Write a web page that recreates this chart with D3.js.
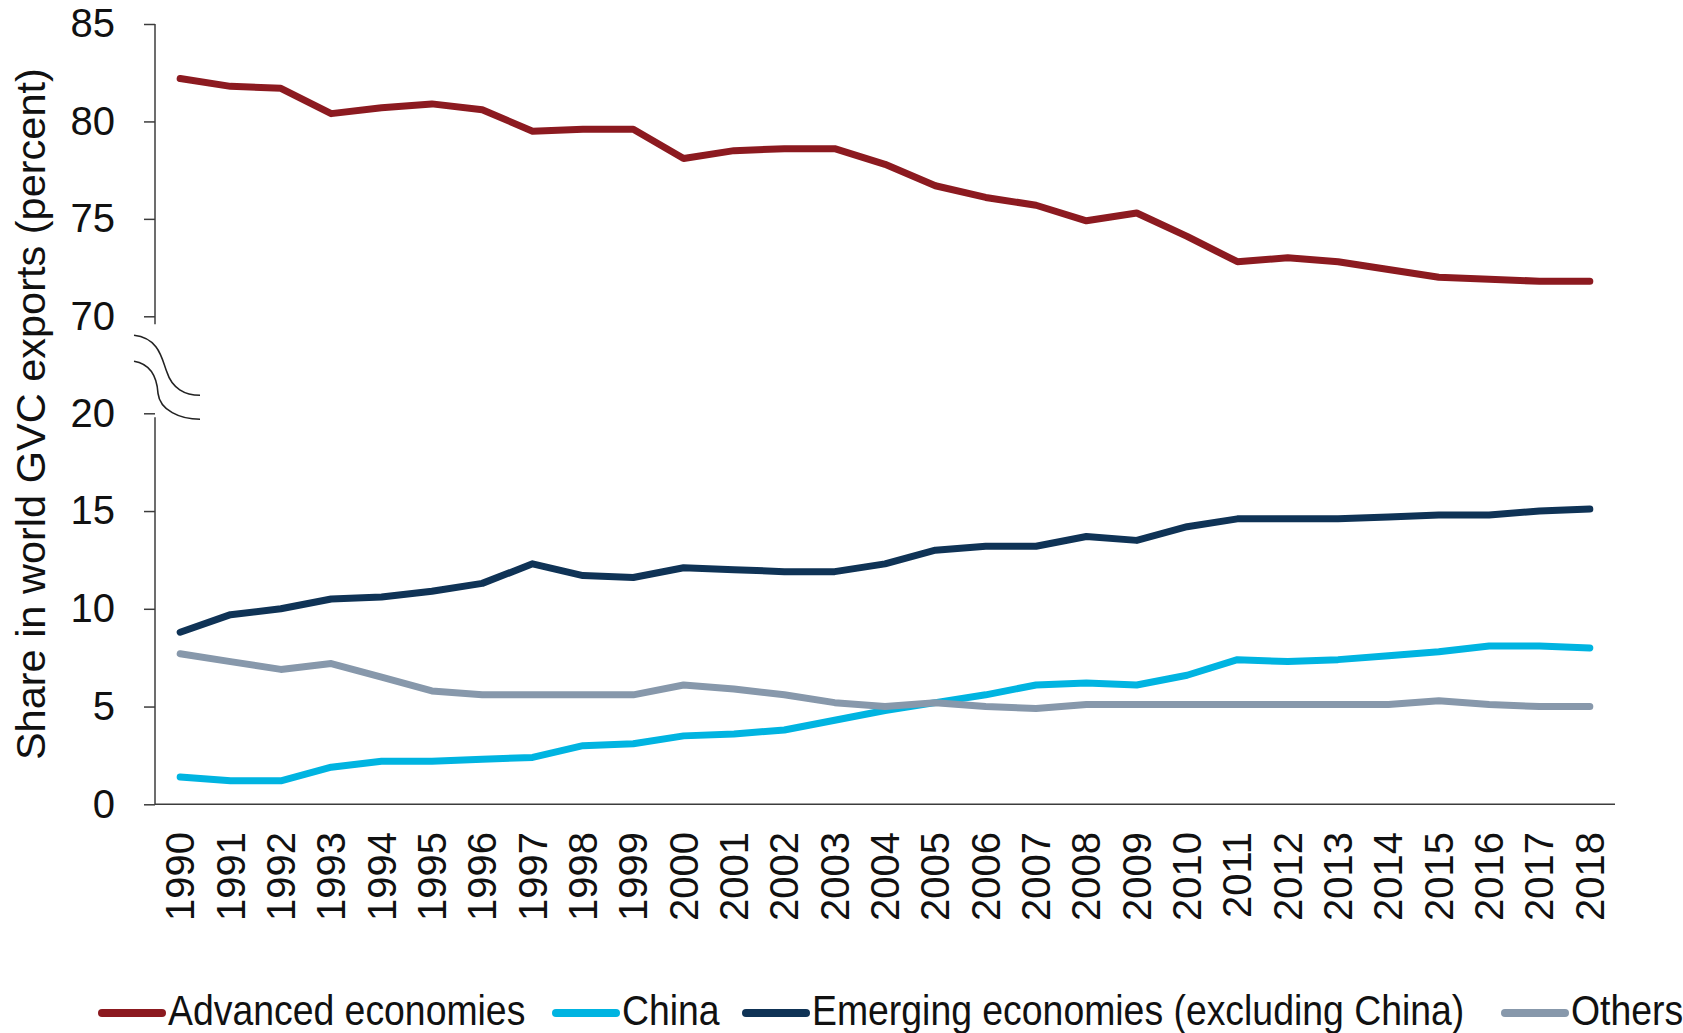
<!DOCTYPE html>
<html>
<head>
<meta charset="utf-8">
<script src="https://cdn.jsdelivr.net/npm/d3@7"></script>
<style>
  html, body { margin: 0; padding: 0; background: #fff; }
  svg { display: block; font-family: "Liberation Sans", Arial, Helvetica, sans-serif; }
</style>
</head>
<body>
<svg id="chart" width="1683" height="1033"></svg>
<script>
// Share in world GVC exports, 1990-2018 (percent)
const years = ["1990","1991","1992","1993","1994","1995","1996","1997","1998","1999",
               "2000","2001","2002","2003","2004","2005","2006","2007","2008","2009",
               "2010","2011","2012","2013","2014","2015","2016","2017","2018"];

const advanced = [82.2, 81.8, 81.7, 80.4, 80.7, 80.9, 80.6, 79.5, 79.6, 79.6,
                  78.1, 78.5, 78.6, 78.6, 77.8, 76.7, 76.1, 75.7, 74.9, 75.3,
                  74.1, 72.8, 73.0, 72.8, 72.4, 72.0, 71.9, 71.8, 71.8];
const china = [1.4, 1.2, 1.2, 1.9, 2.2, 2.2, 2.3, 2.4, 3.0, 3.1,
               3.5, 3.6, 3.8, 4.3, 4.8, 5.2, 5.6, 6.1, 6.2, 6.1,
               6.6, 7.4, 7.3, 7.4, 7.6, 7.8, 8.1, 8.1, 8.0];
const emerging = [8.8, 9.7, 10.0, 10.5, 10.6, 10.9, 11.3, 12.3, 11.7, 11.6,
                  12.1, 12.0, 11.9, 11.9, 12.3, 13.0, 13.2, 13.2, 13.7, 13.5,
                  14.2, 14.6, 14.6, 14.6, 14.7, 14.8, 14.8, 15.0, 15.1];
const others = [7.7, 7.3, 6.9, 7.2, 6.5, 5.8, 5.6, 5.6, 5.6, 5.6,
                6.1, 5.9, 5.6, 5.2, 5.0, 5.2, 5.0, 4.9, 5.1, 5.1,
                5.1, 5.1, 5.1, 5.1, 5.1, 5.3, 5.1, 5.0, 5.0];

const seriesNames = ["Advanced economies", "China", "Emerging economies (excluding China)", "Others"];
const seriesColors = ["#8c1a20", "#00b4e1", "#0f3356", "#8798ab"];
const upperTicks = [70, 75, 80, 85];
const lowerTicks = [0, 5, 10, 15, 20];

const svg = d3.select("#chart");
const axisColor = "#3c3c3c";
const fontSize = 40;

// Scales: one shared x, two y segments around the axis break
const axisLeft = 155, axisRight = 1615;
const x = d3.scalePoint().domain(years).range([axisLeft, axisRight]).padding(0.5);
const yUpper = d3.scaleLinear().domain([70, 85]).range([316.3, 24]);
const yLower = d3.scaleLinear().domain([0, 20]).range([804.3, 413.3]);

// Y axes
function drawY(scale, ticks, lineTop, lineBottom) {
  const g = svg.append("g").attr("transform", `translate(${axisLeft},0)`);
  g.call(d3.axisLeft(scale).tickValues(ticks).tickSize(11).tickPadding(29).tickFormat(d3.format("d")));
  g.select(".domain").remove();
  g.append("line").attr("x1", 0).attr("x2", 0).attr("y1", lineTop).attr("y2", lineBottom)
    .attr("stroke", axisColor).attr("stroke-width", 1.5);
  g.selectAll(".tick line").attr("stroke", axisColor).attr("stroke-width", 1.5);
  g.selectAll(".tick text").attr("fill", "#111").style("font-size", fontSize + "px")
    .style("font-family", "'Liberation Sans', Arial, sans-serif");
}
drawY(yUpper, upperTicks, yUpper(85), yUpper(70) + 8);
drawY(yLower, lowerTicks, yLower(20) + 4, yLower(0));

// Axis break marks
const bTop = yUpper(70) + 19, bGap = 26;
const breakG = svg.append("g").attr("fill", "none").attr("stroke", "#222").attr("stroke-width", 1.6);
breakG.append("path").attr("d",
  `M${axisLeft - 21},${bTop} C${axisLeft + 5},${bTop + 3} ${axisLeft + 7},${bTop + 25} ${axisLeft + 12},${bTop + 37}
   C${axisLeft + 17},${bTop + 53} ${axisLeft + 30},${bTop + 60} ${axisLeft + 45},${bTop + 60}`);
breakG.append("path").attr("d",
  `M${axisLeft - 21},${bTop + bGap} C${axisLeft - 3},${bTop + bGap + 3} ${axisLeft + 2},${bTop + bGap + 17} ${axisLeft + 3},${bTop + bGap + 32}
   C${axisLeft + 5},${bTop + bGap + 49} ${axisLeft + 25},${bTop + bGap + 58} ${axisLeft + 45},${bTop + bGap + 58}`);

// X axis (line only, no tick marks)
svg.append("line").attr("x1", axisLeft).attr("x2", axisRight)
  .attr("y1", yLower(0)).attr("y2", yLower(0))
  .attr("stroke", axisColor).attr("stroke-width", 1.5);

svg.append("g").selectAll("text").data(years).join("text")
  .attr("transform", d => `translate(${x(d)},832) rotate(-90)`)
  .attr("text-anchor", "end")
  .attr("dy", "0.35em")
  .attr("fill", "#111")
  .style("font-size", fontSize + "px")
  .text(d => d);

// Y axis title
svg.append("text")
  .attr("transform", `translate(45,${(yUpper(85) + yLower(0)) / 2}) rotate(-90)`)
  .attr("text-anchor", "middle")
  .attr("fill", "#111")
  .style("font-size", "41.5px")
  .text("Share in world GVC exports (percent)");

// Lines
const seriesData = [
  { values: advanced, y: yUpper },
  { values: china, y: yLower },
  { values: emerging, y: yLower },
  { values: others, y: yLower }
];
seriesData.forEach((s, i) => {
  const line = d3.line().x((d, j) => x(years[j])).y(d => s.y(d));
  svg.append("path")
    .datum(s.values)
    .attr("d", line)
    .attr("fill", "none")
    .attr("stroke", seriesColors[i])
    .attr("stroke-width", 7)
    .attr("stroke-linejoin", "round")
    .attr("stroke-linecap", "round");
});

// Legend
const legendStarts = [98, 552, 742, 1501];
const legendY = 1013;
const legend = svg.append("g");
seriesNames.forEach((name, i) => {
  const g = legend.append("g").attr("transform", `translate(${legendStarts[i]},${legendY})`);
  g.append("line").attr("x1", 4).attr("x2", 64).attr("y1", 0).attr("y2", 0)
    .attr("stroke", seriesColors[i]).attr("stroke-width", 8).attr("stroke-linecap", "round");
  g.append("text")
    .attr("transform", "translate(70,12) scale(0.89,1)")
    .attr("fill", "#111")
    .style("font-size", "42px")
    .text(name);
});
</script>
</body>
</html>
